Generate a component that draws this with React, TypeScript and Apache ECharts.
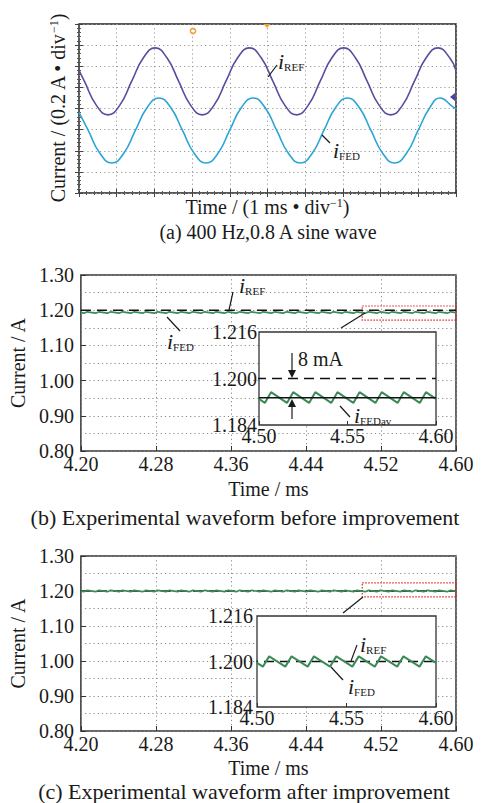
import React, { useEffect, useRef } from "react";
import * as echarts from "echarts";

const FONT = '"Liberation Serif", "Times New Roman", serif';
const INK = "#1a1a1a";

// (a) oscilloscope: time in div (1 ms/div), current in div (0.2 A/div)
const refA: number[][] = [
  [0, 5.8], [0.145, 5.28], [0.458, 4.16], [0.77, 3.7], [1.083, 4.16], [1.395, 5.28], [1.708, 6.4],
  [2.02, 6.87], [2.333, 6.4], [2.645, 5.28], [2.958, 4.16], [3.27, 3.7], [3.583, 4.16], [3.895, 5.28],
  [4.208, 6.4], [4.52, 6.87], [4.833, 6.4], [5.145, 5.28], [5.458, 4.16], [5.77, 3.7], [6.083, 4.16],
  [6.395, 5.28], [6.708, 6.4], [7.02, 6.87], [7.333, 6.4], [7.645, 5.28], [7.958, 4.16], [8.27, 3.7],
  [8.583, 4.16], [8.895, 5.28], [9.208, 6.4], [9.52, 6.87], [9.833, 6.4], [10, 5.8],
];
const fedA: number[][] = [
  [0, 3.82], [0.245, 2.96], [0.558, 1.87], [0.87, 1.42], [1.183, 1.87], [1.495, 2.96], [1.808, 4.05],
  [2.12, 4.5], [2.433, 4.05], [2.745, 2.96], [3.058, 1.87], [3.37, 1.42], [3.683, 1.87], [3.995, 2.96],
  [4.308, 4.05], [4.62, 4.5], [4.933, 4.05], [5.245, 2.96], [5.558, 1.87], [5.87, 1.42], [6.183, 1.87],
  [6.495, 2.96], [6.808, 4.05], [7.12, 4.5], [7.433, 4.05], [7.745, 2.96], [8.058, 1.87], [8.37, 1.42],
  [8.683, 1.87], [8.995, 2.96], [9.308, 4.05], [9.58, 4.5], [9.9, 4.1], [10, 3.98],
];

// (b) before improvement (time ms, current A)
const refB: number[][] = [[4.2, 1.2], [4.6, 1.2]];
const fedAvB: number[][] = [[4.5, 1.1934], [4.6, 1.1934]];
const fedB: number[][] = [
  [4.2, 1.193],
  [4.2033, 1.1916], [4.2068, 1.1953], [4.2158, 1.1916], [4.2193, 1.1953],
  [4.2283, 1.1916], [4.2318, 1.1953], [4.2408, 1.1916], [4.2443, 1.1953],
  [4.2533, 1.1916], [4.2568, 1.1953], [4.2658, 1.1916], [4.2693, 1.1953],
  [4.2783, 1.1916], [4.2818, 1.1953], [4.2908, 1.1916], [4.2943, 1.1953],
  [4.3033, 1.1916], [4.3068, 1.1953], [4.3158, 1.1916], [4.3193, 1.1953],
  [4.3283, 1.1916], [4.3318, 1.1953], [4.3408, 1.1916], [4.3443, 1.1953],
  [4.3533, 1.1916], [4.3568, 1.1953], [4.3658, 1.1916], [4.3693, 1.1953],
  [4.3783, 1.1916], [4.3818, 1.1953], [4.3908, 1.1916], [4.3943, 1.1953],
  [4.4033, 1.1916], [4.4068, 1.1953], [4.4158, 1.1916], [4.4193, 1.1953],
  [4.4283, 1.1916], [4.4318, 1.1953], [4.4408, 1.1916], [4.4443, 1.1953],
  [4.4533, 1.1916], [4.4568, 1.1953], [4.4658, 1.1916], [4.4693, 1.1953],
  [4.4783, 1.1916], [4.4818, 1.1953], [4.4908, 1.1916], [4.4943, 1.1953],
  [4.5033, 1.1916], [4.5068, 1.1953], [4.5158, 1.1916], [4.5193, 1.1953],
  [4.5283, 1.1916], [4.5318, 1.1953], [4.5408, 1.1916], [4.5443, 1.1953],
  [4.5533, 1.1916], [4.5568, 1.1953], [4.5658, 1.1916], [4.5693, 1.1953],
  [4.5783, 1.1916], [4.5818, 1.1953], [4.5908, 1.1916], [4.5943, 1.1953],
  [4.6, 1.193],
];
const zoomBoxB = { x0: 4.5, x1: 4.6, yTop: 1.212, yBottom: 1.172 };

// (c) after improvement
const refC: number[][] = [[4.2, 1.2], [4.6, 1.2]];
const fedC: number[][] = [
  [4.2, 1.1995],
  [4.2033, 1.1982], [4.2068, 1.2018], [4.2158, 1.1982], [4.2193, 1.2018],
  [4.2283, 1.1982], [4.2318, 1.2018], [4.2408, 1.1982], [4.2443, 1.2018],
  [4.2533, 1.1982], [4.2568, 1.2018], [4.2658, 1.1982], [4.2693, 1.2018],
  [4.2783, 1.1982], [4.2818, 1.2018], [4.2908, 1.1982], [4.2943, 1.2018],
  [4.3033, 1.1982], [4.3068, 1.2018], [4.3158, 1.1982], [4.3193, 1.2018],
  [4.3283, 1.1982], [4.3318, 1.2018], [4.3408, 1.1982], [4.3443, 1.2018],
  [4.3533, 1.1982], [4.3568, 1.2018], [4.3658, 1.1982], [4.3693, 1.2018],
  [4.3783, 1.1982], [4.3818, 1.2018], [4.3908, 1.1982], [4.3943, 1.2018],
  [4.4033, 1.1982], [4.4068, 1.2018], [4.4158, 1.1982], [4.4193, 1.2018],
  [4.4283, 1.1982], [4.4318, 1.2018], [4.4408, 1.1982], [4.4443, 1.2018],
  [4.4533, 1.1982], [4.4568, 1.2018], [4.4658, 1.1982], [4.4693, 1.2018],
  [4.4783, 1.1982], [4.4818, 1.2018], [4.4908, 1.1982], [4.4943, 1.2018],
  [4.5033, 1.1982], [4.5068, 1.2018], [4.5158, 1.1982], [4.5193, 1.2018],
  [4.5283, 1.1982], [4.5318, 1.2018], [4.5408, 1.1982], [4.5443, 1.2018],
  [4.5533, 1.1982], [4.5568, 1.2018], [4.5658, 1.1982], [4.5693, 1.2018],
  [4.5783, 1.1982], [4.5818, 1.2018], [4.5908, 1.1982], [4.5943, 1.2018],
  [4.6, 1.1995],
];
const zoomBoxC = { x0: 4.5, x1: 4.6, yTop: 1.223, yBottom: 1.183 };

const xTicksMain = ["4.20", "4.28", "4.36", "4.44", "4.52", "4.60"];
const yTicksMain = ["0.80", "0.90", "1.00", "1.10", "1.20", "1.30"];
const xTicksInset = ["4.50", "4.55", "4.60"];
const yTicksInset = ["1.184", "1.200", "1.216"];

const dotted = { color: "#8a8a8a", type: [1.2, 3] as number[], width: 1 };
const tickText = { fontFamily: FONT, fontSize: 20, color: INK };

function subLabel(x: number, y: number, main: string, sub: string) {
  return {
    type: "text",
    x,
    y,
    z: 100,
    style: {
      text: `{i|${main}}{s|${sub}}`,
      align: "left",
      verticalAlign: "middle",
      rich: {
        i: { fontFamily: FONT, fontSize: 22, fontStyle: "italic", fill: INK },
        s: { fontFamily: FONT, fontSize: 11, fill: INK, verticalAlign: "bottom" },
      },
    },
  };
}
function leader(x1: number, y1: number, x2: number, y2: number) {
  return { type: "line", z: 100, shape: { x1, y1, x2, y2 }, style: { stroke: INK, lineWidth: 1.2 } };
}
function caption(x: number, y: number, text: string, size: number) {
  return {
    type: "text",
    x,
    y,
    z: 100,
    style: { text, align: "center", verticalAlign: "middle", fontFamily: FONT, fontSize: size, fill: INK },
  };
}

function mainX(gridIndex: number, nameGap: number) {
  return {
    type: "value",
    gridIndex,
    min: 4.2,
    max: 4.6,
    interval: 0.04,
    name: "Time / ms",
    nameLocation: "middle",
    nameGap,
    nameTextStyle: { fontFamily: FONT, fontSize: 20, color: INK },
    axisLine: { show: false },
    axisTick: {
      show: true,
      inside: true,
      length: 5,
      customValues: xTicksMain.map(Number),
      lineStyle: { color: "#333" },
    },
    axisLabel: {
      ...tickText,
      margin: 3,
      formatter: (v: number) => (xTicksMain.includes(v.toFixed(2)) ? v.toFixed(2) : ""),
    },
    splitLine: { show: true, lineStyle: dotted },
  };
}
function mainY(gridIndex: number) {
  return {
    type: "value",
    gridIndex,
    min: 0.8,
    max: 1.3,
    interval: 0.1,
    name: "Current / A",
    nameLocation: "middle",
    nameGap: 47,
    nameTextStyle: { fontFamily: FONT, fontSize: 20, color: INK },
    axisLine: { show: false },
    axisTick: { show: true, inside: true, length: 5, lineStyle: { color: "#333" } },
    axisLabel: {
      ...tickText,
      margin: 7,
      formatter: (v: number) => (yTicksMain.includes(v.toFixed(2)) ? v.toFixed(2) : ""),
    },
    splitLine: { show: true, lineStyle: dotted },
    minorTick: { show: false, splitNumber: 2 },
    minorSplitLine: { show: true, lineStyle: dotted },
  };
}
function insetX(gridIndex: number) {
  return {
    type: "value",
    gridIndex,
    min: 4.5,
    max: 4.6,
    interval: 0.05,
    z: 6,
    axisLine: { show: false },
    axisTick: { show: true, inside: true, length: 4, lineStyle: { color: "#333" } },
    axisLabel: {
      ...tickText,
      margin: 1,
      formatter: (v: number) => (xTicksInset.includes(v.toFixed(2)) ? v.toFixed(2) : ""),
    },
    splitLine: { show: false },
  };
}
function insetY(gridIndex: number, margin: number) {
  return {
    type: "value",
    gridIndex,
    min: 1.184,
    max: 1.216,
    interval: 0.016,
    z: 6,
    axisLine: { show: false },
    axisTick: { show: false },
    axisLabel: {
      ...tickText,
      margin,
      formatter: (v: number) => (yTicksInset.includes(v.toFixed(3)) ? v.toFixed(3) : ""),
    },
    splitLine: { show: false },
  };
}

function lineSeries(xi: number, data: number[][], color: string, extra: any = {}) {
  return {
    type: "line",
    xAxisIndex: xi,
    yAxisIndex: xi,
    data,
    symbol: "none",
    lineStyle: { color, width: 1.6 },
    ...extra,
  };
}
function redBox(box: { x0: number; x1: number; yTop: number; yBottom: number }) {
  return {
    silent: true,
    itemStyle: { color: "rgba(0,0,0,0)", borderColor: "#e02424", borderWidth: 1.2, borderType: [1.5, 1.5] },
    data: [[{ xAxis: box.x0, yAxis: box.yTop }, { xAxis: box.x1, yAxis: box.yBottom }]],
  };
}

export default function App() {
  const ref = useRef<HTMLDivElement>(null);
  useEffect(() => {
    if (!ref.current) return;
    const chart = echarts.init(ref.current, null, { renderer: "svg" });
    const scopeTick = {
      show: true,
      inside: true,
      length: 4,
      lineStyle: { color: "#444" },
    };
    const scopeMinor = { show: true, splitNumber: 5, length: 2, lineStyle: { color: "#555" } };
    const dashed = { color: "#111", width: 1.6, type: [10, 6] as number[] };
    const option: any = {
      animation: false,
      backgroundColor: "#fff",
      grid: [
        { left: 79, top: 24, width: 377, height: 169, show: true, borderColor: "#222", borderWidth: 1.5 },
        { left: 79, top: 275, width: 377, height: 176, show: true, borderColor: "#333", borderWidth: 1.5 },
        { left: 259, top: 332, width: 177, height: 93, show: true, backgroundColor: "#fff", borderColor: "#333", borderWidth: 1.3, z: 5 },
        { left: 79, top: 556, width: 377, height: 175, show: true, borderColor: "#333", borderWidth: 1.5 },
        { left: 257, top: 616, width: 179, height: 91, show: true, backgroundColor: "#fff", borderColor: "#333", borderWidth: 1.3, z: 5 },
      ],
      xAxis: [
        {
          type: "value", gridIndex: 0, min: 0, max: 10, interval: 1,
          name: "Time / (1 ms • div{sup|−1})", nameLocation: "middle", nameGap: 4,
          nameTextStyle: { fontFamily: FONT, fontSize: 20, color: INK, rich: { sup: { fontFamily: FONT, fontSize: 12, color: INK, verticalAlign: "top" } } },
          axisLine: { show: false }, axisTick: scopeTick, minorTick: scopeMinor,
          axisLabel: { show: false }, splitLine: { show: true, lineStyle: { ...dotted, color: "#9a9a9a" } },
        },
        mainX(1, 28),
        insetX(2),
        mainX(3, 27),
        insetX(4),
        {
          type: "value", gridIndex: 0, position: "top", min: 0, max: 10, interval: 1,
          axisLine: { show: false }, axisTick: scopeTick, minorTick: scopeMinor,
          axisLabel: { show: false }, splitLine: { show: false },
        },
      ],
      yAxis: [
        {
          type: "value", gridIndex: 0, min: 0, max: 8, interval: 1,
          name: "Current / (0.2 A • div{sup|−1})", nameLocation: "middle", nameGap: 11,
          nameTextStyle: { fontFamily: FONT, fontSize: 20, color: INK, rich: { sup: { fontFamily: FONT, fontSize: 12, color: INK, verticalAlign: "top" } } },
          axisLine: { show: false }, axisTick: scopeTick, minorTick: scopeMinor,
          axisLabel: { show: false }, splitLine: { show: true, lineStyle: { ...dotted, color: "#9a9a9a" } },
        },
        mainY(1),
        insetY(2, 2),
        mainY(3),
        insetY(4, 4),
        {
          type: "value", gridIndex: 0, position: "right", min: 0, max: 8, interval: 1,
          axisLine: { show: false }, axisTick: scopeTick, minorTick: scopeMinor,
          axisLabel: { show: false }, splitLine: { show: false },
        },
      ],
      series: [
        lineSeries(0, refA, "#5a4c9f", { smooth: 0.5 }),
        lineSeries(0, fedA, "#2ba5d7", { smooth: 0.5 }),
        // (b)
        lineSeries(1, fedB, "#3b8a58", { markArea: redBox(zoomBoxB) }),
        lineSeries(1, refB, "#111", { lineStyle: dashed }),
        lineSeries(2, fedB, "#3b8a58", { z: 7, lineStyle: { color: "#3b8a58", width: 2 } }),
        lineSeries(2, refB, "#111", { z: 7, lineStyle: dashed }),
        lineSeries(2, fedAvB, "#111", { z: 8, lineStyle: { color: "#111", width: 1.6 } }),
        // (c)
        lineSeries(3, refC, "#111", { lineStyle: dashed }),
        lineSeries(3, fedC, "#3b8a58", { markArea: redBox(zoomBoxC) }),
        lineSeries(4, refC, "#111", { z: 7, lineStyle: dashed }),
        lineSeries(4, fedC, "#3b8a58", { z: 8, lineStyle: { color: "#3b8a58", width: 2 } }),
      ],
      graphic: [
        caption(268, 232, "(a) 400 Hz,0.8 A sine wave", 20),
        caption(245, 517, "(b) Experimental waveform before improvement", 22),
        caption(244, 791, "(c) Experimental waveform after improvement", 22),
        // (a)
        subLabel(278, 61, "i", "REF"),
        leader(277, 65, 268, 77),
        subLabel(333, 150, "i", "FED"),
        leader(330, 143, 322, 135),
        { type: "circle", z: 100, shape: { cx: 193, cy: 31, r: 2.6 }, style: { fill: "none", stroke: "#f0a040", lineWidth: 1.5 } },
        { type: "polygon", z: 100, shape: { points: [[263.5, 24], [270.5, 24], [267, 28]] }, style: { fill: "#f0a030" } },
        { type: "polygon", z: 100, shape: { points: [[450, 97], [455, 93], [455, 101]] }, style: { fill: "#4b3fa8" } },
        // (b)
        subLabel(239, 285, "i", "REF"),
        leader(233, 292, 229, 310),
        subLabel(167, 341, "i", "FED"),
        leader(180, 331, 167, 317),
        leader(365, 313, 341, 328),
        { type: "text", z: 100, x: 298, y: 359, style: { text: "8 mA", align: "left", verticalAlign: "middle", fontFamily: FONT, fontSize: 20, fill: INK } },
        leader(292, 353, 292, 371),
        { type: "polygon", z: 100, shape: { points: [[288, 370], [296, 370], [292, 378]] }, style: { fill: INK } },
        leader(292, 406, 292, 419),
        { type: "polygon", z: 100, shape: { points: [[292, 399], [288, 407], [296, 407]] }, style: { fill: INK } },
        subLabel(354, 415, "i", "FEDav"),
        leader(340, 406, 350, 417),
        // (c)
        leader(363, 597, 343, 613),
        subLabel(360, 644, "i", "REF"),
        leader(357, 645, 351, 661),
        subLabel(348, 686, "i", "FED"),
        leader(343, 680, 331, 667),
      ],
    };
    chart.setOption(option);
    return () => chart.dispose();
  }, []);
  return (
    <div
      ref={ref}
      style={{ position: "absolute", left: 0, top: 0, width: 481, height: 803, background: "#fff" }}
    />
  );
}
